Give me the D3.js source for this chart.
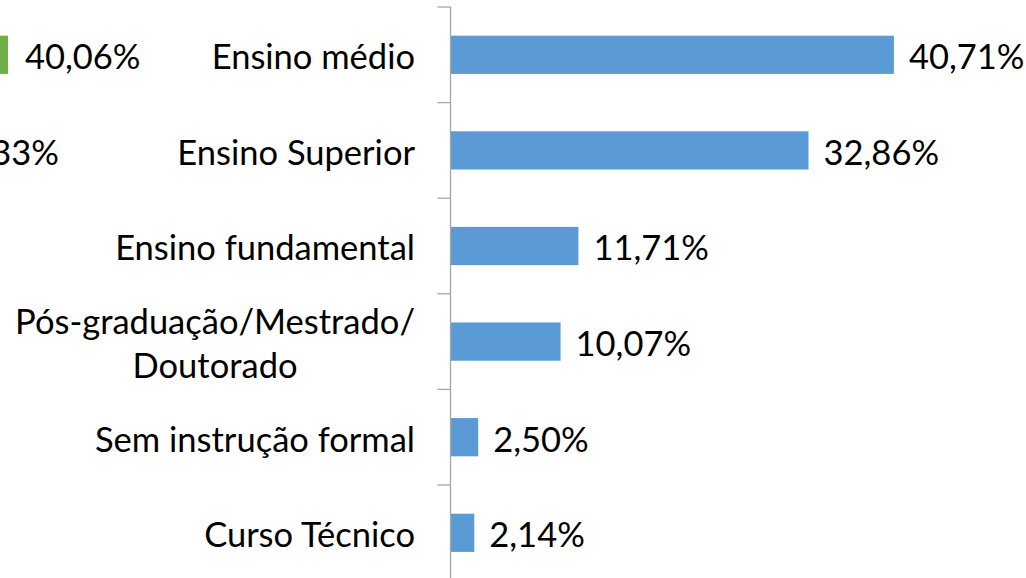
<!DOCTYPE html>
<html><head><meta charset="utf-8">
<script src="https://cdn.jsdelivr.net/npm/d3@7"></script>
<style>html,body{margin:0;padding:0;background:#fff;overflow:hidden}</style>
</head><body>
<svg id="c" width="1026" height="578"></svg>
<script>
const categories = ["Ensino médio","Ensino Superior","Ensino fundamental","Pós-graduação/Mestrado/\nDoutorado","Sem instrução formal","Curso Técnico"];
const values = [40.71,32.86,11.71,10.07,2.50,2.14];
const valueLabels = ["40,71%","32,86%","11,71%","10,07%","2,50%","2,14%"];
const leftLabels = ["40,06%","33%"];

const svg = d3.select("#c");
const font = "Lato, 'Open Sans', sans-serif";
const fs = 34.5;
const dy = "0.42em";

const y = d3.scaleBand().domain(categories).range([7, 580.6]).paddingInner(0.6).paddingOuter(0.3);
const x = d3.scaleLinear().domain([0, 50]).range([451, 995]);
const step = y.step();

// left partial panel
const yl = d3.scaleBand().domain(leftLabels).range([7, 7 + 2*step]).paddingInner(0.6).paddingOuter(0.3);
svg.append("rect").attr("x", -100).attr("width", 108).attr("y", yl(leftLabels[0])).attr("height", yl.bandwidth()).attr("fill", "#70AD47");
svg.append("text").attr("x", 25).attr("y", yl(leftLabels[0]) + yl.bandwidth()/2).attr("dy",dy)
  .attr("font-family", font).attr("font-size", fs).attr("fill","#000").text(leftLabels[0]);
svg.append("text").attr("x", 59).attr("text-anchor","end").attr("y", yl(leftLabels[1]) + yl.bandwidth()/2).attr("dy",dy)
  .attr("font-family", font).attr("font-size", fs).attr("fill","#000").text(leftLabels[1]);

// bars
svg.selectAll("rect.bar").data(categories).join("rect").attr("class","bar")
  .attr("x", x(0)).attr("y", d => y(d)).attr("height", y.bandwidth())
  .attr("width", (d,i) => x(values[i]) - x(0)).attr("fill", "#5B9BD5");

// axis line and ticks
const ax = 450.5;
svg.append("line").attr("x1", ax).attr("x2", ax).attr("y1", y.range()[0]).attr("y2", y.range()[1]).attr("stroke","#A6A6A6").attr("stroke-width",1.3);
const bounds = d3.range(categories.length + 1).map(i => y.range()[0] + i*step);
svg.selectAll("line.tick").data(bounds).join("line").attr("class","tick")
  .attr("x1", ax - 13).attr("x2", ax).attr("y1", d => d).attr("y2", d => d).attr("stroke","#A6A6A6").attr("stroke-width",1.3);

// category labels
categories.forEach((c, i) => {
  const lines = c.split("\n");
  const cy = y(c) + y.bandwidth()/2;
  const lh = 44;
  const g = svg.append("g");
  const ts = lines.map((ln, j) => g.append("text")
      .attr("y", cy + (j - (lines.length-1)/2)*lh).attr("dy",dy)
      .attr("font-family", font).attr("font-size", fs).attr("fill","#000").text(ln));
  if (lines.length === 1) {
    ts[0].attr("x", 415).attr("text-anchor","end");
  } else {
    const w = d3.max(ts, t => t.node().getComputedTextLength());
    ts.forEach(t => t.attr("x", 415 - w/2).attr("text-anchor","middle"));
  }
});

// value labels
svg.selectAll("text.val").data(categories).join("text").attr("class","val")
  .attr("x", (d,i) => x(values[i]) + 15).attr("y", d => y(d) + y.bandwidth()/2).attr("dy",dy)
  .attr("font-family", font).attr("font-size", fs).attr("fill","#000").text((d,i) => valueLabels[i]);
</script>
</body></html>
